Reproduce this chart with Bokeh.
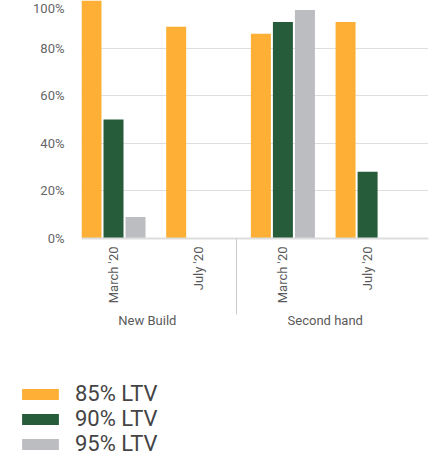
import math
from bokeh.plotting import figure
from bokeh.models import (ColumnDataSource, Range1d, FixedTicker, LinearAxis,
                          PrintfTickFormatter, Legend, LegendItem)
from bokeh.transform import dodge
from bokeh.embed import file_html
from bokeh.resources import INLINE

# ---- data ----
categories = ["March '20", "July '20", "March '20", "July '20"]
groups = ["New Build", "Second hand"]
ltv85 = [100, 89, 86, 91]
ltv90 = [50, 0, 91, 28]
ltv95 = [9, 0, 96, 0]
series_names = ["85% LTV", "90% LTV", "95% LTV"]
y_ticks = [0, 20, 40, 60, 80, 100]

colors = ["#FDB035", "#265C3A", "#BCBDC1"]
FONT = "Roboto"
TXT = "#5a5a5a"

idx = list(range(len(categories)))
src = ColumnDataSource(dict(idx=idx, s85=ltv85, s90=ltv90, s95=ltv95))
cols = ["s85", "s90", "s95"]

p = figure(width=433, height=330, output_backend="svg", toolbar_location=None,
           x_range=Range1d(-0.378, 3.719), y_range=Range1d(0, 100),
           min_border_top=0, min_border_left=81, min_border_right=5,
           min_border_bottom=91, x_axis_type=None, outline_line_color=None)
p.background_fill_color = None
p.border_fill_color = None

bw = 0.236
off = 0.26
for j, col in enumerate(cols):
    p.vbar(x=dodge("idx", (j - 1) * off, range=p.x_range), top=col, width=bw,
           source=src, fill_color=colors[j], line_color=None)

# y axis
p.yaxis.ticker = FixedTicker(ticks=y_ticks)
p.yaxis.formatter = PrintfTickFormatter(format="%d%%")
p.yaxis.axis_line_color = None
p.yaxis.major_tick_line_color = None
p.yaxis.minor_tick_line_color = None
p.yaxis.major_label_text_font = FONT
p.yaxis.major_label_text_font_size = "13px"
p.yaxis.major_label_text_color = "#666666"
p.yaxis.major_label_standoff = 11
p.ygrid.grid_line_color = "#dedede"
p.ygrid.grid_line_width = 1
p.ygrid.ticker = FixedTicker(ticks=y_ticks)
p.xgrid.grid_line_color = None

# month axis (separator drawn as a minor tick pointing outward)
month_axis = LinearAxis(
    ticker=FixedTicker(ticks=idx, minor_ticks=[1.45]),
    major_label_overrides={i: c for i, c in enumerate(categories)},
    major_label_orientation=math.pi / 2,
    axis_line_color="#dddddd", axis_line_width=2,
    major_tick_line_color=None, major_tick_out=0, major_tick_in=0,
    minor_tick_line_color="#cccccc", minor_tick_out=0, minor_tick_in=-76,
    major_label_text_font=FONT, major_label_text_font_size="13px",
    major_label_text_color=TXT, major_label_standoff=8)
p.add_layout(month_axis, "below")

# group axis
group_pos = [0.4, 2.5]
group_axis = LinearAxis(
    ticker=FixedTicker(ticks=group_pos),
    major_label_overrides={g_pos: g for g_pos, g in zip(group_pos, groups)},
    axis_line_color=None, major_tick_line_color=None, minor_tick_line_color=None,
    major_tick_out=0, major_tick_in=0,
    major_label_text_font=FONT, major_label_text_font_size="13px",
    major_label_text_color=TXT, major_label_standoff=6)
p.add_layout(group_axis, "below")

# legend figure (same data, drawn out of view so only the legend shows)
q = figure(width=433, height=129, output_backend="svg", toolbar_location=None,
           x_range=Range1d(100, 101), y_range=Range1d(100, 101),
           min_border=0, min_border_left=0, min_border_right=0,
           x_axis_type=None, y_axis_type=None, outline_line_color=None)
q.grid.grid_line_color = None
q.background_fill_color = None
q.border_fill_color = None
items = []
for j, name in enumerate(series_names):
    rr = q.vbar(x="idx", top=cols[j], width=bw, source=src,
                fill_color=colors[j], line_color=None)
    items.append(LegendItem(label=name, renderers=[rr]))
leg = Legend(items=items, location=(17, 3), orientation="vertical",
             glyph_width=46, glyph_height=14, label_height=25, spacing=0,
             label_standoff=12, padding=0, margin=0,
             label_text_font=FONT, label_text_font_size="22px",
             label_text_color="#444444",
             border_line_color=None, background_fill_color=None)
q.add_layout(leg, "center")

open("out.html", "w").write(file_html([p, q], INLINE))
